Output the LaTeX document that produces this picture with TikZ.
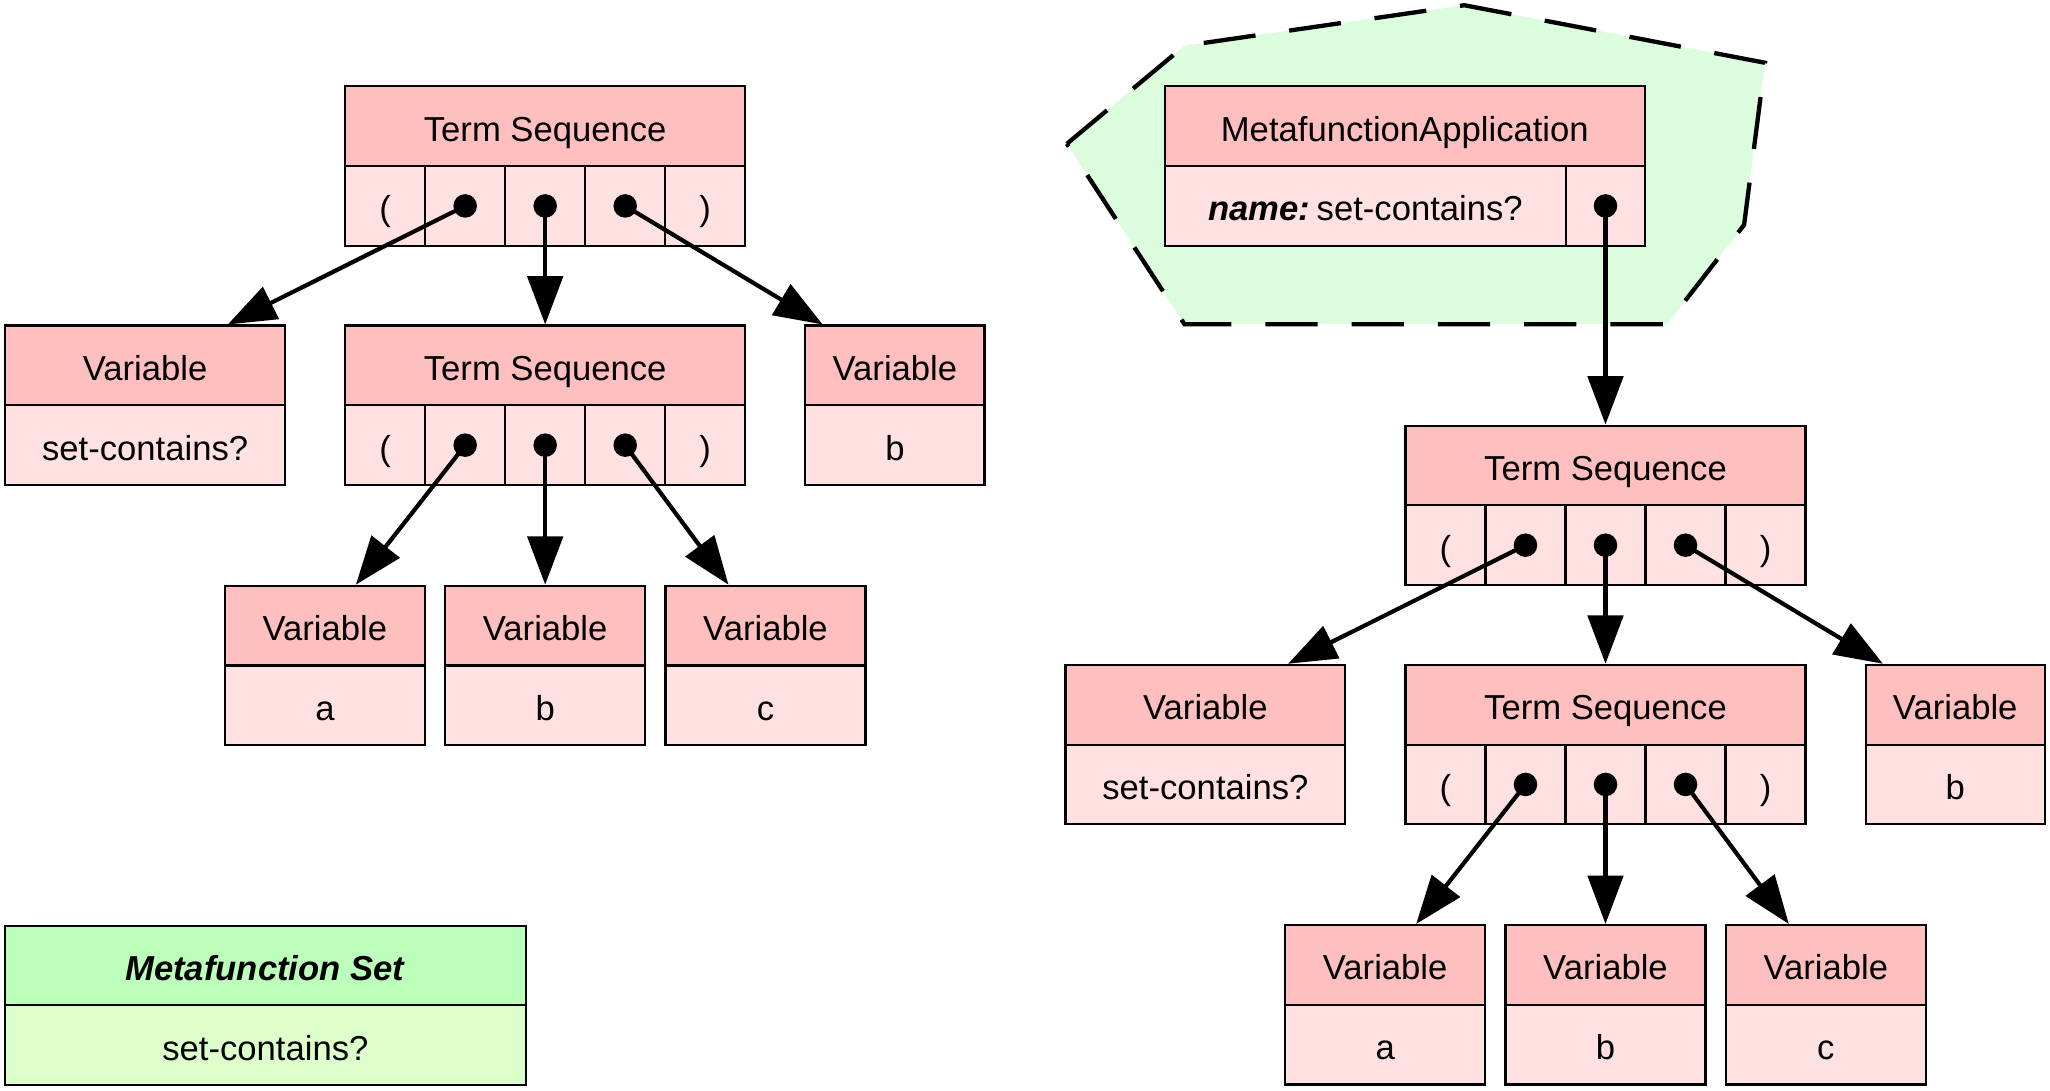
\documentclass[tikz,border=0pt]{standalone}
\usepackage{fontspec}
\setmainfont{Liberation Sans}
\usetikzlibrary{arrows.meta}
\definecolor{hdrpink}{RGB}{255,191,191}
\definecolor{bodypink}{RGB}{255,225,225}
\definecolor{hdrgreen}{RGB}{187,255,187}
\definecolor{bodygreen}{RGB}{221,255,204}
\definecolor{polygreen}{RGB}{219,252,221}
\tikzset{
  box/.style={draw=black, line width=1.6pt, rectangle, inner sep=0pt,
    minimum height=61pt, text height=23pt, text depth=0pt,
    font=\fontsize{26.5}{30}\selectfont, text=black},
  hdr/.style={box, fill=hdrpink},
  bod/.style={box, fill=bodypink},
  cellbox/.style={bod, minimum width=61.2pt},
  dotn/.style={circle, fill=black, inner sep=0pt, minimum size=18pt},
  arr/.style={line width=3.2pt, -{Triangle[length=37pt,width=27pt]}},
  hull/.style={draw=black, line width=3.3pt, dash pattern=on 40pt off 26pt, fill=polygreen},
}
\newcommand\tseq[3]{%
  \node[hdr, minimum width=306pt] (#1h) at (#2, #3+30.5) {Term Sequence};
  \node[cellbox] (#1c1) at (#2-122.4, #3+91.5) {(};
  \node[cellbox] (#1c2) at (#2-61.2, #3+91.5) {};
  \node[cellbox] (#1c3) at (#2, #3+91.5) {};
  \node[cellbox] (#1c4) at (#2+61.2, #3+91.5) {};
  \node[cellbox] (#1c5) at (#2+122.4, #3+91.5) {)};
  \node[dotn] (#1d2) at (#1c2.center) {};
  \node[dotn] (#1d3) at (#1c3.center) {};
  \node[dotn] (#1d4) at (#1c4.center) {};
}
\newcommand\varbox[5]{%
  \node[hdr, minimum width=#4] (#1h) at (#2, #3+30.5) {Variable};
  \node[bod, minimum width=#4] (#1b) at (#2, #3+91.5) {#5};
}
\newcommand\seqtree{%
  \tseq{tsA}{417}{66}
  \varbox{vsc}{111}{249}{214pt}{set-contains?}
  \tseq{tsB}{417}{249}
  \varbox{vb}{684.5}{249}{137pt}{b}
  \varbox{va}{248.5}{448}{153pt}{a}
  \varbox{vbb}{417}{448}{153pt}{b}
  \varbox{vc}{585.5}{448}{153pt}{c}
  \draw[arr] (tsAd2.center) -- ([xshift=171pt]vsch.north west);
  \draw[arr] (tsAd3.center) -- (tsBh.north);
  \draw[arr] (tsAd4.center) -- ([xshift=14pt]vbh.north west);
  \draw[arr] (tsBd2.center) -- ([xshift=101pt]vah.north west);
  \draw[arr] (tsBd3.center) -- (vbbh.north);
  \draw[arr] (tsBd4.center) -- ([xshift=49pt]vch.north west);
}
\begin{document}
\begin{tikzpicture}[x=1pt, y=-1pt]
  \useasboundingbox (0,0) rectangle (1568,834);
  % cluster hull
  \draw[hull] (816,110) -- (906,35) -- (1120,4) -- (1350,48) -- (1334,172)
    -- (1275,248) -- (906,248) -- cycle;
  % left tree
  \begin{scope}[name prefix=L-]
    \seqtree
  \end{scope}
  % right tree
  \begin{scope}[shift={(811,259.5)}, name prefix=R-]
    \seqtree
  \end{scope}
  % metafunction application
  \node[hdr, minimum width=367pt] (mfah) at (1074.5, 96.5) {MetafunctionApplication};
  \node[bod, minimum width=307pt] (mfan) at (1044.5, 157.5) {\textbf{\textit{name:}}\hspace{0.18em}set-contains?};
  \node[bod, minimum width=60pt] (mfap) at (1228, 157.5) {};
  \node[dotn] (mfad) at (mfap.center) {};
  \draw[arr] (mfad.center) -- (R-tsAh.north);
  % metafunction set
  \node[box, fill=hdrgreen, minimum width=398pt] (msh) at (203, 738.5) {\textbf{\textit{Metafunction Set}}};
  \node[box, fill=bodygreen, minimum width=398pt] (msb) at (203, 799.5) {set-contains?};
\end{tikzpicture}
\end{document}
